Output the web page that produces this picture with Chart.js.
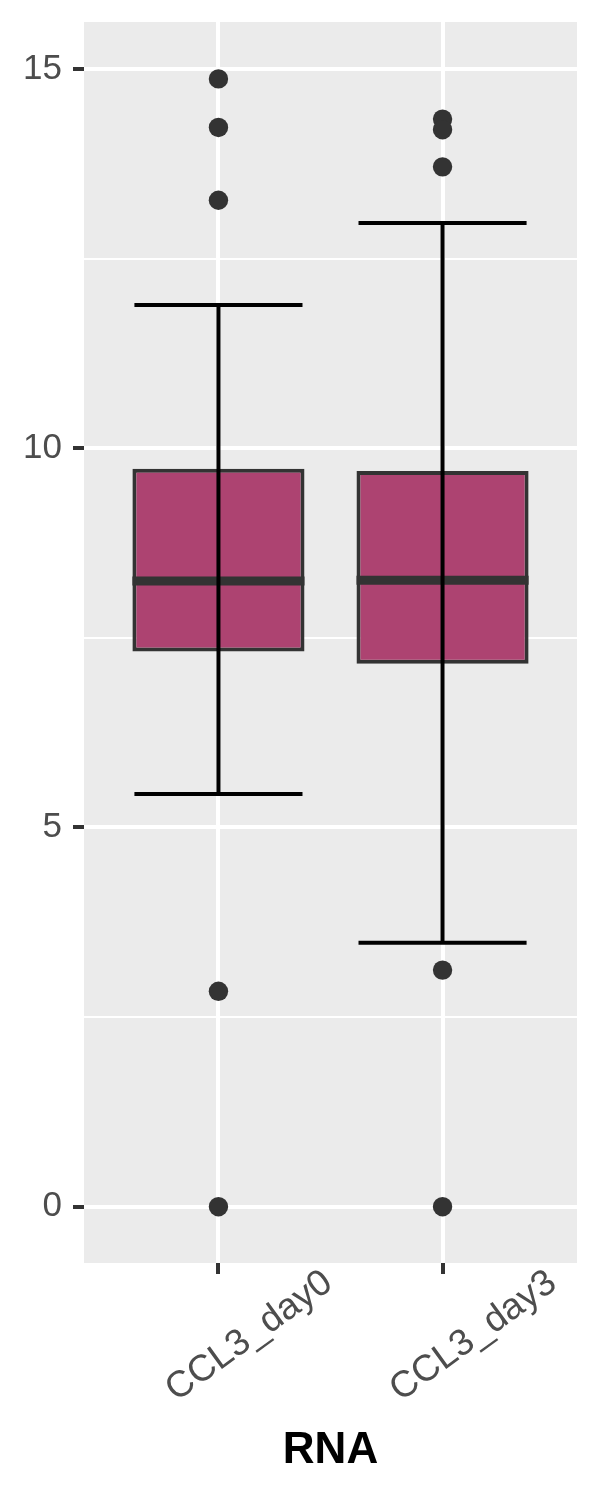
<!DOCTYPE html>
<html>
<head>
<meta charset="utf-8">
<script src="https://cdn.jsdelivr.net/npm/chart.js@4.4.0/dist/chart.umd.min.js"></script>
<style>
  html, body { margin: 0; padding: 0; background: #ffffff; }
  canvas { display: block; }
</style>
</head>
<body>
<canvas id="boxChart" width="600" height="1500"></canvas>
<script>
// values
const categories = ['CCL3_day0', 'CCL3_day3'];
const lowerWhisker = [5.44, 3.48];
const q1 = [7.32, 7.16];
const median = [8.25, 8.26];
const q3 = [9.73, 9.70];
const upperWhisker = [11.89, 12.97];
const outliers = [
    [14.87, 14.23, 13.27, 2.84, 0],
    [14.34, 14.20, 13.71, 3.12, 0]
];
const majorTicks = [0, 5, 10, 15];
const minorTicks = [2.5, 7.5, 12.5];

const FONT = '"Liberation Sans", Arial, Helvetica, sans-serif';
const isMajor = v => majorTicks.includes(v);

// grey panel behind the grid
const panelBackground = {
    id: 'panelBackground',
    beforeDraw(chart) {
        const { ctx, chartArea: a } = chart;
        ctx.save();
        ctx.fillStyle = '#EBEBEB';
        ctx.fillRect(a.left, a.top, a.right - a.left, a.bottom - a.top);
        ctx.restore();
    }
};

// median bar + error-bar whiskers on top of the boxes
const boxWhiskers = {
    id: 'boxWhiskers',
    afterDatasetsDraw(chart) {
        const { ctx, scales: { x, y } } = chart;
        const bars = chart.getDatasetMeta(0).data;
        ctx.save();
        ctx.lineCap = 'butt';
        categories.forEach((c, i) => {
            const bar = bars[i];
            const ym = y.getPixelForValue(median[i]);
            ctx.strokeStyle = '#333333';
            ctx.lineWidth = 9;
            ctx.beginPath();
            ctx.moveTo(bar.x - bar.width / 2, ym);
            ctx.lineTo(bar.x + bar.width / 2, ym);
            ctx.stroke();

            const cx = x.getPixelForValue(i + 1);
            const half = x.getPixelForValue(i + 1 + 0.375) - cx;
            const yLo = y.getPixelForValue(lowerWhisker[i]);
            const yHi = y.getPixelForValue(upperWhisker[i]);
            ctx.strokeStyle = '#000000';
            ctx.lineWidth = 4;
            ctx.beginPath();
            ctx.moveTo(cx, yLo); ctx.lineTo(cx, yHi);
            ctx.moveTo(cx - half, yLo); ctx.lineTo(cx + half, yLo);
            ctx.moveTo(cx - half, yHi); ctx.lineTo(cx + half, yHi);
            ctx.stroke();
        });
        ctx.restore();
    }
};

new Chart(document.getElementById('boxChart').getContext('2d'), {
    type: 'bar',
    data: {
        datasets: [{
            type: 'bar',
            data: categories.map((c, i) => ({ x: i + 1, y: [q1[i], q3[i]] })),
            backgroundColor: '#AD4371',
            borderColor: '#333333',
            borderWidth: 4,
            borderSkipped: false,
            barPercentage: 0.768,
            categoryPercentage: 1,
            order: 2
        }, {
            type: 'scatter',
            data: outliers.flatMap((vals, i) => vals.map(v => ({ x: i + 1, y: v }))),
            pointRadius: 9.7,
            pointBackgroundColor: '#333333',
            pointBorderWidth: 0,
            order: 1
        }]
    },
    options: {
        responsive: false,
        animation: false,
        layout: { padding: { left: 0, right: 23, top: 22, bottom: 0 } },
        plugins: { legend: { display: false }, tooltip: { enabled: false } },
        scales: {
            x: {
                type: 'linear',
                min: 0.4,
                max: 2.6,
                offset: false,
                afterBuildTicks: s => { s.ticks = categories.map((c, i) => ({ value: i + 1 })); },
                afterFit: s => { s.height = 237; s.paddingLeft = 0; s.paddingRight = 0; },
                border: { display: false },
                grid: { color: '#FFFFFF', lineWidth: 4, offset: false, tickColor: '#333333', tickWidth: 4, tickLength: 11 },
                ticks: {
                    autoSkip: false,
                    minRotation: 36,
                    maxRotation: 36,
                    padding: -13,
                    labelOffset: 110,
                    color: '#4D4D4D',
                    font: { family: FONT, size: 37 },
                    callback: (v, i) => categories[i]
                },
                title: {
                    display: true,
                    text: 'RNA',
                    color: '#000000',
                    font: { family: FONT, size: 44, weight: 'bold' },
                    padding: { top: 0, bottom: 23 }
                }
            },
            y: {
                min: -0.742,
                max: 15.62,
                afterBuildTicks: s => { s.ticks = majorTicks.concat(minorTicks).sort((a, b) => a - b).map(v => ({ value: v })); },
                afterFit: s => { s.width = 84; s.paddingTop = 0; s.paddingBottom = 0; },
                border: { display: false },
                grid: {
                    color: '#FFFFFF',
                    lineWidth: ctx => isMajor(ctx.tick.value) ? 4 : 2,
                    tickColor: ctx => isMajor(ctx.tick.value) ? '#333333' : 'rgba(0,0,0,0)',
                    tickWidth: 4,
                    tickLength: 11
                },
                ticks: {
                    padding: 11,
                    color: '#4D4D4D',
                    font: { family: FONT, size: 35 },
                    callback: v => isMajor(v) ? String(v) : ''
                }
            }
        }
    },
    plugins: [panelBackground, boxWhiskers]
});
</script>
</body>
</html>
